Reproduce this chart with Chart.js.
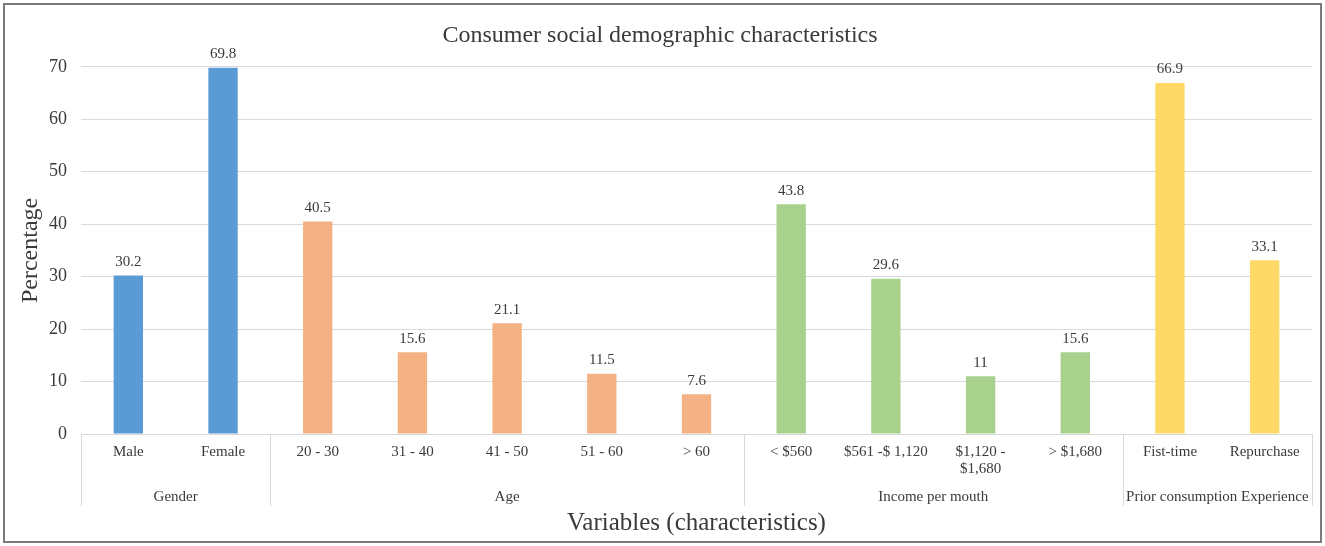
<!DOCTYPE html>
<html>
<head>
<meta charset="utf-8">
<script src="https://cdn.jsdelivr.net/npm/chart.js@4.4.1/dist/chart.umd.min.js"></script>
<style>
    html, body { margin: 0; padding: 0; background: #fff; }
    #wrap { width: 1325px; height: 546px; }
</style>
</head>
<body>
<div id="wrap"><canvas id="chart"></canvas></div>
<script>
const categories = [
    "Male", "Female",
    "20 - 30", "31 - 40", "41 - 50", "51 - 60", "> 60",
    "< $560", "$561 -$ 1,120", ["$1,120 -", "$1,680"], "> $1,680",
    "Fist-time", "Repurchase"
];
const percentages = [30.2, 69.8, 40.5, 15.6, 21.1, 11.5, 7.6, 43.8, 29.6, 11, 15.6, 66.9, 33.1];
const groupNames = ["Gender", "Age", "Income per mouth", "Prior consumption Experience"];
const groupSizes = [2, 5, 4, 2];
const groupColors = ["#5B9BD5", "#F4B183", "#A9D18E", "#FFD966"];
const yTicks = [0, 10, 20, 30, 40, 50, 60, 70];

const SERIF = "'Liberation Serif', 'Times New Roman', serif";
const GRID = "#d9d9d9";
const TEXT = "#3a3a3a";

// one colour per bar, taken from its group
const barColors = [];
groupSizes.forEach((n, g) => { for (let i = 0; i < n; i++) barColors.push(groupColors[g]); });

const framePlugin = {
    id: "frame",
    beforeDraw(chart) {
        const ctx = chart.ctx;
        ctx.save();
        ctx.fillStyle = "#fff";
        ctx.fillRect(0, 0, chart.width, chart.height);
        ctx.restore();
    },
    afterDraw(chart) {
        const ctx = chart.ctx;
        ctx.save();
        ctx.strokeStyle = "#7a7a7a";
        ctx.lineWidth = 2;
        ctx.strokeRect(4, 4, chart.width - 8, chart.height - 8);
        ctx.restore();
    }
};

const valueLabels = {
    id: "valueLabels",
    afterDatasetsDraw(chart) {
        const ctx = chart.ctx;
        const meta = chart.getDatasetMeta(0);
        ctx.save();
        ctx.font = "15px " + SERIF;
        ctx.fillStyle = TEXT;
        ctx.textAlign = "center";
        ctx.textBaseline = "bottom";
        meta.data.forEach((bar, i) => {
            ctx.fillText(String(percentages[i]), bar.x, bar.y - 6);
        });
        ctx.restore();
    }
};

const groupAxis = {
    id: "groupAxis",
    afterDraw(chart) {
        const ctx = chart.ctx;
        const x = chart.scales.x;
        const top = chart.chartArea.bottom;
        const half = (x.getPixelForValue(1) - x.getPixelForValue(0)) / 2;
        ctx.save();
        ctx.strokeStyle = GRID;
        ctx.lineWidth = 1;
        ctx.font = "15px " + SERIF;
        ctx.fillStyle = TEXT;
        ctx.textAlign = "center";
        ctx.textBaseline = "middle";
        let start = 0;
        groupSizes.forEach((n, g) => {
            const left = x.getPixelForValue(start) - half;
            const right = x.getPixelForValue(start + n - 1) + half;
            [left, right].forEach(px => {
                ctx.beginPath();
                ctx.moveTo(Math.round(px) + 0.5, top);
                ctx.lineTo(Math.round(px) + 0.5, top + 72);
                ctx.stroke();
            });
            ctx.fillText(groupNames[g], (left + right) / 2, top + 63);
            start += n;
        });
        ctx.restore();
    }
};

new Chart(document.getElementById("chart"), {
    type: "bar",
    data: {
        labels: categories,
        datasets: [{
            data: percentages,
            backgroundColor: barColors,
            barPercentage: 0.31,
            categoryPercentage: 1
        }]
    },
    options: {
        responsive: true,
        maintainAspectRatio: false,
        animation: false,
        layout: { padding: { left: 8, right: 13, top: 8, bottom: 8 } },
        plugins: {
            legend: { display: false },
            tooltip: { enabled: false },
            title: {
                display: true,
                text: "Consumer social demographic characteristics",
                color: TEXT,
                font: { family: SERIF, size: 24, weight: "normal" },
                padding: { top: 13, bottom: 17 }
            }
        },
        scales: {
            x: {
                grid: { display: false, drawTicks: false },
                border: { display: true, color: GRID },
                ticks: {
                    color: TEXT,
                    font: { family: SERIF, size: 15, lineHeight: 1.15 },
                    padding: 9,
                    maxRotation: 0,
                    autoSkip: false
                },
                title: {
                    display: true,
                    text: "Variables (characteristics)",
                    color: TEXT,
                    font: { family: SERIF, size: 25 },
                    padding: { top: 2, bottom: 0 }
                },
                afterFit(scale) { scale.height = 104; }
            },
            y: {
                min: 0,
                max: 70,
                afterBuildTicks(scale) { scale.ticks = yTicks.map(v => ({ value: v })); },
                grid: { color: GRID, drawTicks: false },
                border: { display: false },
                ticks: {
                    color: TEXT,
                    font: { family: SERIF, size: 18 },
                    padding: 14
                },
                title: {
                    display: true,
                    text: "Percentage",
                    color: TEXT,
                    font: { family: SERIF, size: 24 },
                    padding: { top: 8, bottom: 0 }
                },
                afterFit(scale) { scale.width = 73; }
            }
        }
    },
    plugins: [framePlugin, valueLabels, groupAxis]
});
</script>
</body>
</html>
